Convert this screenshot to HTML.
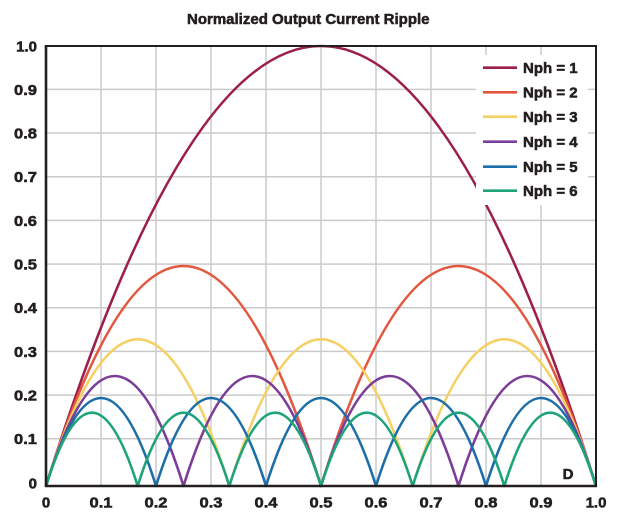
<!DOCTYPE html>
<html>
<head>
<meta charset="utf-8">
<style>
html,body{margin:0;padding:0;background:#fff;}
svg{display:block;}
text{font-family:"Liberation Sans",sans-serif;font-weight:bold;fill:#231f20;stroke:#231f20;stroke-width:0.55px;}
</style>
</head>
<body>
<svg width="620" height="518" viewBox="0 0 620 518" xmlns="http://www.w3.org/2000/svg">
<rect x="0" y="0" width="620" height="518" fill="#fff"/>
<text x="187" y="24" font-size="15">Normalized Output Current Ripple</text>

<!-- grid -->
<g stroke="#cbcbcb" stroke-width="1.5" fill="none">
<line x1="101" y1="46" x2="101" y2="486"/>
<line x1="156" y1="46" x2="156" y2="486"/>
<line x1="211" y1="46" x2="211" y2="486"/>
<line x1="266" y1="46" x2="266" y2="486"/>
<line x1="321" y1="46" x2="321" y2="486"/>
<line x1="376" y1="46" x2="376" y2="486"/>
<line x1="431" y1="46" x2="431" y2="486"/>
<line x1="486" y1="46" x2="486" y2="486"/>
<line x1="541" y1="46" x2="541" y2="486"/>
<line x1="46" y1="89.4" x2="596" y2="89.4"/>
<line x1="46" y1="133" x2="596" y2="133"/>
<line x1="46" y1="176.7" x2="596" y2="176.7"/>
<line x1="46" y1="220.4" x2="596" y2="220.4"/>
<line x1="46" y1="264.1" x2="596" y2="264.1"/>
<line x1="46" y1="307.7" x2="596" y2="307.7"/>
<line x1="46" y1="351.4" x2="596" y2="351.4"/>
<line x1="46" y1="395.1" x2="596" y2="395.1"/>
<line x1="46" y1="438.7" x2="596" y2="438.7"/>
</g>

<!-- curves -->
<g fill="none" stroke-width="2.6" stroke-linejoin="round">
<path stroke="#9c1f4a" d="M46,486 Q321,-394 596,486"/>
<path stroke="#e4573f" d="M46,486 Q183.5,46 321,486 Q458.5,46 596,486"/>
<path stroke="#f6d065" d="M46,486 Q137.67,192.67 229.33,486 Q321,192.67 412.67,486 Q504.33,192.67 596,486"/>
<path stroke="#7c3d98" d="M46,486 Q114.75,266 183.5,486 Q252.25,266 321,486 Q389.75,266 458.5,486 Q527.25,266 596,486"/>
<path stroke="#1c6ea9" d="M46,486 Q101,310 156,486 Q211,310 266,486 Q321,310 376,486 Q431,310 486,486 Q541,310 596,486"/>
<path stroke="#1fa37b" d="M46,486 Q91.83,339.33 137.67,486 Q183.5,339.33 229.33,486 Q275.17,339.33 321,486 Q366.83,339.33 412.67,486 Q458.5,339.33 504.33,486 Q550.17,339.33 596,486"/>
</g>

<!-- legend -->
<rect x="476" y="55" width="112" height="150" fill="#fff"/>
<g stroke-width="2.6">
<line x1="483" y1="67.7" x2="517" y2="67.7" stroke="#9c1f4a"/>
<line x1="483" y1="92.3" x2="517" y2="92.3" stroke="#e4573f"/>
<line x1="483" y1="116.7" x2="517" y2="116.7" stroke="#f6d065"/>
<line x1="483" y1="141.7" x2="517" y2="141.7" stroke="#7c3d98"/>
<line x1="483" y1="166.7" x2="517" y2="166.7" stroke="#1c6ea9"/>
<line x1="483" y1="190.7" x2="517" y2="190.7" stroke="#1fa37b"/>
</g>
<g font-size="15">
<text x="523" y="73">Nph = 1</text>
<text x="523" y="97.6">Nph = 2</text>
<text x="523" y="122">Nph = 3</text>
<text x="523" y="147">Nph = 4</text>
<text x="523" y="172">Nph = 5</text>
<text x="523" y="196">Nph = 6</text>
</g>

<!-- frame -->
<rect x="46" y="46" width="550" height="440" fill="none" stroke="#231f20" stroke-width="2"/>
<line x1="46" y1="45" x2="46" y2="487" stroke="#231f20" stroke-width="2.6"/>
<line x1="45" y1="486" x2="597" y2="486" stroke="#231f20" stroke-width="2.6"/>

<!-- y labels -->
<g font-size="15" text-anchor="end">
<text x="37" y="51.5">1.0</text>
<text x="37" y="94.9" textLength="23" lengthAdjust="spacingAndGlyphs">0.9</text>
<text x="37" y="138.5" textLength="23" lengthAdjust="spacingAndGlyphs">0.8</text>
<text x="37" y="182.2" textLength="23" lengthAdjust="spacingAndGlyphs">0.7</text>
<text x="37" y="225.9" textLength="23" lengthAdjust="spacingAndGlyphs">0.6</text>
<text x="37" y="269.6" textLength="23" lengthAdjust="spacingAndGlyphs">0.5</text>
<text x="37" y="313.2" textLength="23" lengthAdjust="spacingAndGlyphs">0.4</text>
<text x="37" y="356.9" textLength="23" lengthAdjust="spacingAndGlyphs">0.3</text>
<text x="37" y="400.6" textLength="23" lengthAdjust="spacingAndGlyphs">0.2</text>
<text x="37" y="444.2" textLength="23" lengthAdjust="spacingAndGlyphs">0.1</text>
<text x="37" y="488.5">0</text>
</g>

<!-- x labels -->
<g font-size="15" text-anchor="middle">
<text x="46" y="507.5">0</text>
<text x="101" y="507.5" textLength="23" lengthAdjust="spacingAndGlyphs">0.1</text>
<text x="156" y="507.5" textLength="23" lengthAdjust="spacingAndGlyphs">0.2</text>
<text x="211" y="507.5" textLength="23" lengthAdjust="spacingAndGlyphs">0.3</text>
<text x="266" y="507.5" textLength="23" lengthAdjust="spacingAndGlyphs">0.4</text>
<text x="321" y="507.5" textLength="23" lengthAdjust="spacingAndGlyphs">0.5</text>
<text x="376" y="507.5" textLength="23" lengthAdjust="spacingAndGlyphs">0.6</text>
<text x="431" y="507.5" textLength="23" lengthAdjust="spacingAndGlyphs">0.7</text>
<text x="486" y="507.5" textLength="23" lengthAdjust="spacingAndGlyphs">0.8</text>
<text x="541" y="507.5" textLength="23" lengthAdjust="spacingAndGlyphs">0.9</text>
<text x="596" y="507.5">1.0</text>
</g>

<text x="568" y="479" font-size="15" text-anchor="middle">D</text>
</svg>
</body>
</html>
